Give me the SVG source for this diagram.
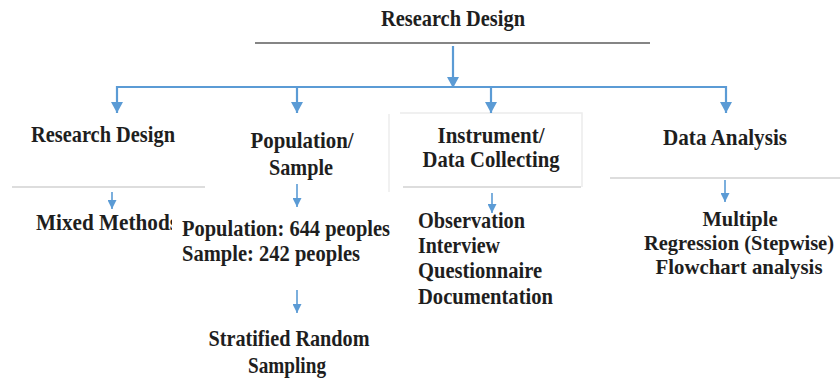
<svg xmlns="http://www.w3.org/2000/svg" width="840" height="381" viewBox="0 0 840 381" font-family="'Liberation Serif', 'DejaVu Serif', serif">
<defs>
<style>
text{font-family:"Liberation Serif","DejaVu Serif",serif;font-weight:bold;font-size:24px;fill:#1e1e1e}
.c{text-anchor:middle}
.sm{font-size:21px}
.blue{stroke:#5b9bd5;fill:none}
.big{stroke-width:2.2}
.small{stroke-width:1.6}
.rule{stroke:#d2d2d2;stroke-width:1.5}
.faint{stroke:#ececec;stroke-width:1.5;fill:none}
</style>
<marker id="ah" markerUnits="userSpaceOnUse" markerWidth="14" markerHeight="12" refX="11" refY="6" orient="auto">
<path d="M0,0 L11,6 L0,12 Z" fill="#5b9bd5"/>
</marker>
<marker id="as" markerUnits="userSpaceOnUse" markerWidth="10" markerHeight="9" refX="9" refY="4.5" orient="auto">
<path d="M0,0 L9,4.5 L0,9 Z" fill="#5b9bd5"/>
</marker>
<clipPath id="clipMixed"><rect x="0" y="200" width="172" height="40"/></clipPath>
</defs>
<rect width="840" height="381" fill="#ffffff"/>

<g id="faint-boxes">
<path class="faint" d="M389,114 V192"/>
<path class="faint" d="M400,113 H582 V187"/>
</g>

<g id="root">
<text class="c" x="453" y="26" textLength="144" lengthAdjust="spacingAndGlyphs">Research Design</text>
<line x1="255" y1="43" x2="650" y2="43" stroke="#858585" stroke-width="2"/>
</g>

<g id="connectors">
<line class="blue big" x1="453" y1="46" x2="453" y2="88" marker-end="url(#ah)"/>
<line class="blue big" x1="117" y1="87" x2="726" y2="87"/>
<line class="blue big" x1="117" y1="86" x2="117" y2="113" marker-end="url(#ah)"/>
<line class="blue big" x1="297" y1="86" x2="297" y2="113" marker-end="url(#ah)"/>
<line class="blue big" x1="491" y1="86" x2="491" y2="113" marker-end="url(#ah)"/>
<line class="blue big" x1="726" y1="86" x2="726" y2="113" marker-end="url(#ah)"/>
<line class="blue small" x1="112" y1="192" x2="112" y2="209" marker-end="url(#as)"/>
<line class="blue small" x1="297" y1="184" x2="297" y2="207" marker-end="url(#as)"/>
<line class="blue small" x1="297" y1="290" x2="297" y2="313" marker-end="url(#as)"/>
<line class="blue small" x1="492" y1="193" x2="492" y2="213" marker-end="url(#as)"/>
<line class="blue small" x1="725" y1="180" x2="725" y2="202" marker-end="url(#as)"/>
</g>

<g id="research-design">
<text class="c" x="103" y="142" textLength="144" lengthAdjust="spacingAndGlyphs">Research Design</text>
<line class="rule" x1="12" y1="187" x2="205" y2="187"/>
</g>

<g id="mixed-methods">
<text x="36" y="230" textLength="142" lengthAdjust="spacingAndGlyphs" clip-path="url(#clipMixed)">Mixed Methods</text>
</g>

<g id="population-sample">
<text class="c" x="302" y="148" textLength="103" lengthAdjust="spacingAndGlyphs">Population/</text>
<text class="c" x="301" y="175" textLength="64" lengthAdjust="spacingAndGlyphs">Sample</text>
</g>

<g id="population-values">
<text x="182" y="236" textLength="208" lengthAdjust="spacingAndGlyphs">Population: 644 peoples</text>
<text x="182" y="261" textLength="178" lengthAdjust="spacingAndGlyphs">Sample: 242 peoples</text>
</g>

<g id="stratified">
<text class="c" x="289" y="346" textLength="161" lengthAdjust="spacingAndGlyphs">Stratified Random</text>
<text class="c" x="287" y="373" textLength="78" lengthAdjust="spacingAndGlyphs">Sampling</text>
</g>

<g id="instrument">
<text class="c" x="491" y="143" textLength="107" lengthAdjust="spacingAndGlyphs">Instrument/</text>
<text class="c" x="491" y="167" textLength="137" lengthAdjust="spacingAndGlyphs">Data Collecting</text>
<line class="rule" x1="403" y1="187" x2="581" y2="187"/>
</g>

<g id="instrument-list">
<text x="418" y="228" textLength="107" lengthAdjust="spacingAndGlyphs">Observation</text>
<text x="418" y="253" textLength="82" lengthAdjust="spacingAndGlyphs">Interview</text>
<text x="418" y="278" textLength="124" lengthAdjust="spacingAndGlyphs">Questionnaire</text>
<text x="418" y="304" textLength="135" lengthAdjust="spacingAndGlyphs">Documentation</text>
</g>

<g id="data-analysis">
<text class="c" x="725" y="145" textLength="124" lengthAdjust="spacingAndGlyphs">Data Analysis</text>
<line class="rule" x1="610" y1="178" x2="840" y2="178"/>
</g>

<g id="analysis-methods">
<text class="c sm" x="740" y="226" textLength="75" lengthAdjust="spacingAndGlyphs">Multiple</text>
<text class="c sm" x="739" y="250" textLength="190" lengthAdjust="spacingAndGlyphs">Regression (Stepwise)</text>
<text class="c sm" x="739" y="274" textLength="167" lengthAdjust="spacingAndGlyphs">Flowchart analysis</text>
</g>
</svg>
